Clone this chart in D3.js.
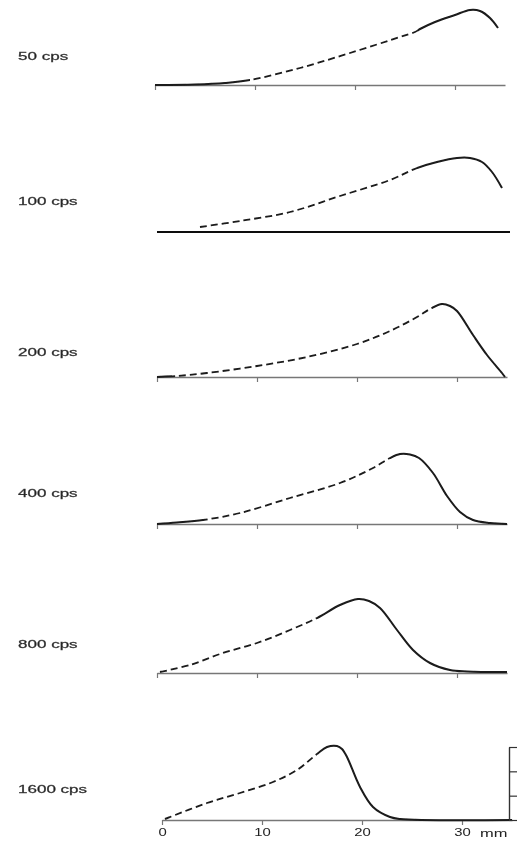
<!DOCTYPE html>
<html>
<head>
<meta charset="utf-8">
<script src="https://cdn.jsdelivr.net/npm/d3@7"></script>
<style>
  body { margin: 0; background: #fff; }
  text { font-family: "Liberation Sans", Arial, sans-serif; fill: #222; }
</style>
</head>
<body>
<svg id="chart"></svg>
<script>
// frequency labels, top to bottom
const freqs = ["50 cps", "100 cps", "200 cps", "400 cps", "800 cps", "1600 cps"];

// envelope amplitude along the membrane: [distance mm, amplitude]
const env50 = [[0, 0], [4, 0.5], [7, 2], [9.5, 5], [14.5, 17], [19.5, 32], [24.5, 48], [26, 53],
  [26.5, 56], [28, 63], [30, 70], [31.5, 75], [32.5, 74], [33.5, 67], [34.3, 57]];
const env100 = [[4.3, 5], [8.3, 11], [13.3, 20], [18.3, 36], [23.3, 52], [26, 64], [28, 70],
  [30, 74], [31.3, 74], [32.5, 70], [33.5, 60], [34.5, 44]];
const env200 = [[0, 0], [2, 1], [5, 4], [10, 11], [15, 20], [20, 33], [23.3, 46], [26, 60],
  [27.3, 68], [28.5, 73], [29.3, 71], [30, 66], [31.6, 42], [33, 22], [34.5, 4], [34.8, 0]];
const env400 = [[0, 0], [2, 1.5], [4.6, 4], [8.3, 11], [13.3, 26], [18.3, 41], [21.6, 56],
  [23.3, 66], [24.3, 70], [25.3, 69.5], [26.2, 66], [27.6, 51], [29, 28], [30.3, 12],
  [31.6, 4], [33.3, 1], [35, 0]];
const env800 = [[0.3, 1], [3.3, 8], [6.6, 20], [10, 30], [13.3, 43], [16, 55], [18.3, 68],
  [20.1, 74], [21.2, 72], [22.3, 65], [24, 43], [25.6, 23], [27.3, 10], [29.3, 3], [31, 1.5], [35, 1]];
const env1600 = [[0.3, 1], [4.5, 17], [7.8, 27], [11.1, 38], [13.5, 50], [15.5, 66], [16.5, 73],
  [17.5, 74], [18, 71], [18.5, 63], [19.8, 33], [21.1, 13], [22.8, 3], [23.8, 1], [35, 0]];
const envelopes = [env50, env100, env200, env400, env800, env1600];

// part of each curve drawn dashed (extrapolated), mm
const dashedRanges = [[9.5, 26.3], [4.3, 26], [1.5, 27.5], [4.6, 23.3], [0.5, 16], [0.8, 15.6]];

const xTicks = [0, 10, 20, 30];
const scaleTicks = [0, 1, 2, 3];

// layout
const W = 522, H = 845;
const baselines = [85, 232, 377, 524, 673, 820];
const labelYs = [60, 205, 356, 497, 648, 793];
const originX = [155, 157, 157, 157, 157, 162];
const mmPx = 10;

const svg = d3.select("#chart").attr("width", W).attr("height", H);

const defs = svg.append("defs");
defs.append("filter").attr("id", "soft")
  .append("feGaussianBlur").attr("stdDeviation", 0.45);

const root = svg.append("g").attr("filter", "url(#soft)");

const y = d3.scaleLinear().domain([0, 80]).range([0, -80]);

freqs.forEach((label, i) => {
  const base = baselines[i];
  const x = d3.scaleLinear().domain([0, 35]).range([originX[i], originX[i] + 35 * mmPx]);
  const g = root.append("g").attr("transform", `translate(0, ${base})`);

  // labels in the original are set wide
  root.append("text")
    .attr("transform", `translate(18, ${labelYs[i]}) scale(1.55, 1)`)
    .style("font-size", "11px")
    .style("stroke", "#444")
    .style("stroke-width", 0.3)
    .attr("fill", "#222")
    .text(label);

  // baseline / axis
  if (i === 1) {
    g.append("line")
      .attr("x1", x(0)).attr("x2", x(35.3))
      .attr("stroke", "#111").attr("stroke-width", 2.2);
  } else {
    const last = i === freqs.length - 1;
    const axis = d3.axisBottom(x)
      .tickValues(xTicks)
      .tickSize(5)
      .tickSizeOuter(0)
      .tickPadding(3)
      .tickFormat(last ? d => d : "");
    const ax = g.append("g").call(axis);
    ax.select(".domain").attr("stroke", "#777").attr("stroke-width", 1.6);
    ax.selectAll(".tick line").attr("stroke", "#777").attr("stroke-width", 1.2);
    ax.selectAll(".tick text")
      .style("font-size", "11px")
      .style("font-family", "Liberation Sans, Arial, sans-serif")
      .attr("fill", "#222")
      .attr("transform", "scale(1.35, 1)");
    if (last) {
      ax.append("text")
        .attr("transform", `translate(${x(30) + 18}, 17) scale(1.5, 1)`)
        .attr("text-anchor", "start")
        .style("font-size", "11px")
        .attr("fill", "#222")
        .text("mm");
    }
  }

  const line = d3.line()
    .x(d => x(d[0]))
    .y(d => y(d[1]))
    .curve(d3.curveCatmullRom.alpha(0.5));

  const [d0, d1] = dashedRanges[i];
  const cidD = `clipD${i}`, cidS1 = `clipS${i}a`, cidS2 = `clipS${i}b`;
  defs.append("clipPath").attr("id", cidD).append("rect")
    .attr("x", x(d0)).attr("width", x(d1) - x(d0)).attr("y", -100).attr("height", 120);
  defs.append("clipPath").attr("id", cidS1).append("rect")
    .attr("x", 0).attr("width", x(d0)).attr("y", -100).attr("height", 120);
  defs.append("clipPath").attr("id", cidS2).append("rect")
    .attr("x", x(d1)).attr("width", W - x(d1)).attr("y", -100).attr("height", 120);

  const data = envelopes[i];
  g.append("path").datum(data)
    .attr("d", line)
    .attr("clip-path", `url(#${cidD})`)
    .attr("fill", "none")
    .attr("stroke", "#1a1a1a")
    .attr("stroke-width", 1.8)
    .attr("stroke-dasharray", "7,4");
  [cidS1, cidS2].forEach(c => {
    g.append("path").datum(data)
      .attr("d", line)
      .attr("clip-path", `url(#${c})`)
      .attr("fill", "none")
      .attr("stroke", "#1a1a1a")
      .attr("stroke-width", 2);
  });

  // amplitude scale bar beside the last panel (its labels fall off the page edge)
  if (i === freqs.length - 1) {
    const s = d3.scaleLinear().domain([0, 3]).range([0, -73]);
    const sb = g.append("g").attr("transform", `translate(${x(34.7)}, 0)`)
      .call(d3.axisRight(s).tickValues(scaleTicks).tickSize(8).tickSizeOuter(0).tickFormat(""));
    sb.select(".domain").attr("stroke", "#333").attr("stroke-width", 1.4);
    sb.selectAll(".tick line").attr("stroke", "#333").attr("stroke-width", 1.2);
  }
});
</script>
</body>
</html>
